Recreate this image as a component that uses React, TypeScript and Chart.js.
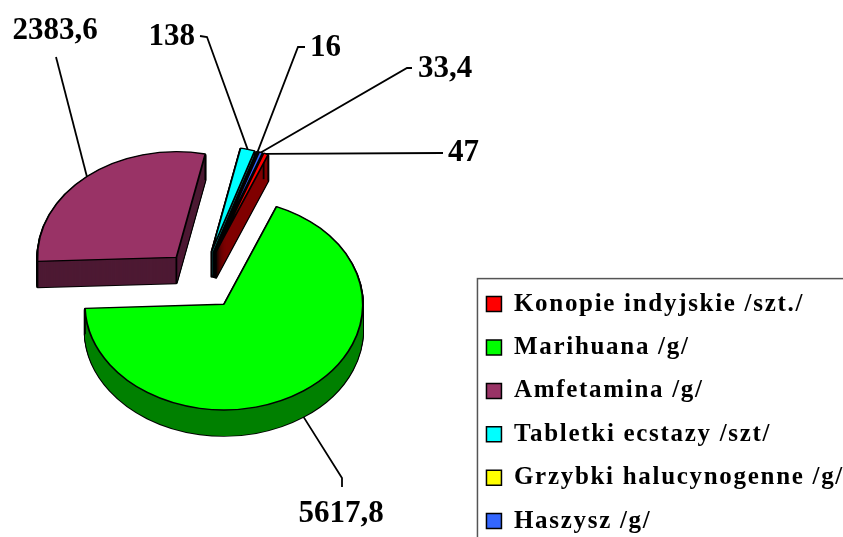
import React, { useEffect, useRef } from "react";
import { Chart, registerables } from "chart.js";

Chart.register(...registerables);

const categories = [
  "Konopie indyjskie /szt./",
  "Marihuana /g/",
  "Amfetamina /g/",
  "Tabletki ecstazy /szt/",
  "Grzybki halucynogenne /g/",
  "Haszysz /g/",
];
const seriesValues = [47, 5617.8, 2383.6, 138, 16, 33.4];
const valueLabels = ["47", "5617,8", "2383,6", "138", "16", "33,4"];
const topColors = ["#FF0000", "#00FF00", "#993366", "#00FFFF", "#FFFF00", "#3366FF"];
const sideColors = ["#800000", "#008000", "#4D1933", "#008080", "#808000", "#1A3380"];

const PIE_X = 201.5;
const PIE_Y = 280;
const SQUASH = 0.76;
const DEPTH = 26;
const EXPLODE = 39;
const DRAW_ORDER = [2, 3, 4, 5, 0, 1];
const LEGEND_TRACKING = "1.7px";

// Leader-line route beyond the rim and label anchors for each slice.
const leaderRoutes: number[][][] = [
  [[443, 153]],
  [[342, 478], [342, 487]],
  [[56, 57]],
  [[207, 37], [200, 36]],
  [[298, 47], [305, 47]],
  [[407, 68], [412, 68]],
];
const labelAnchors: { x: number; y: number; align: CanvasTextAlign }[] = [
  { x: 448, y: 153, align: "left" },
  { x: 341, y: 514, align: "center" },
  { x: 55, y: 31, align: "center" },
  { x: 195, y: 37, align: "right" },
  { x: 310, y: 48, align: "left" },
  { x: 418, y: 69, align: "left" },
];

const SERIF = '"Liberation Serif", serif';

function placeSlice(ctx: CanvasRenderingContext2D, el: any, dy: number) {
  const mid = (el.startAngle + el.endAngle) / 2;
  ctx.translate(PIE_X, PIE_Y + dy);
  ctx.scale(1, SQUASH);
  ctx.translate(EXPLODE * Math.cos(mid), EXPLODE * Math.sin(mid));
  ctx.translate(-el.x, -el.y);
}

function drawVariant(ctx: CanvasRenderingContext2D, el: any, dy: number, fill: string, stroke: string, width: number) {
  const clone = Object.create(el);
  clone.options = Object.assign({}, el.options, {
    backgroundColor: fill,
    borderColor: stroke,
    borderWidth: width,
  });
  ctx.save();
  placeSlice(ctx, el, dy);
  clone.draw(ctx);
  ctx.restore();
}

function rimPoint(el: any, angle: number, dy: number) {
  const mid = (el.startAngle + el.endAngle) / 2;
  return {
    x: PIE_X + EXPLODE * Math.cos(mid) + el.outerRadius * Math.cos(angle),
    y: PIE_Y + dy + SQUASH * (EXPLODE * Math.sin(mid) + el.outerRadius * Math.sin(angle)),
  };
}

const pie3d = {
  id: "pie3d",
  beforeUpdate(chart: any) {
    chart.ctx.letterSpacing = LEGEND_TRACKING;
  },
  beforeDraw(chart: any) {
    chart.ctx.letterSpacing = LEGEND_TRACKING;
  },
  beforeDatasetsDraw(chart: any) {
    const ctx: CanvasRenderingContext2D = chart.ctx;
    const arcs = chart.getDatasetMeta(0).data;
    for (const i of DRAW_ORDER) {
      const el = arcs[i];
      for (let dy = DEPTH; dy > 0; dy -= 1) drawVariant(ctx, el, dy, sideColors[i], "#000000", 2.4);
      for (let dy = DEPTH; dy > 0; dy -= 1) drawVariant(ctx, el, dy, sideColors[i], sideColors[i], 0);
      const mid = (el.startAngle + el.endAngle) / 2;
      const corners = [
        rimPoint(el, el.startAngle, 0),
        rimPoint(el, el.endAngle, 0),
        { x: PIE_X + EXPLODE * Math.cos(mid), y: PIE_Y + SQUASH * EXPLODE * Math.sin(mid) },
      ];
      ctx.save();
      ctx.strokeStyle = "#000000";
      ctx.lineWidth = 1.8;
      for (const c of corners) {
        ctx.beginPath();
        ctx.moveTo(c.x, c.y);
        ctx.lineTo(c.x, c.y + DEPTH);
        ctx.stroke();
      }
      ctx.restore();
      drawVariant(ctx, el, 0, topColors[i], "#000000", 1.8);
    }
    return false;
  },
  afterDraw(chart: any) {
    const ctx: CanvasRenderingContext2D = chart.ctx;
    const arcs = chart.getDatasetMeta(0).data;
    ctx.save();
    ctx.letterSpacing = "0px";
    // legend frame
    const first = chart.legend.legendHitBoxes[0];
    ctx.strokeStyle = "#555555";
    ctx.lineWidth = 1.5;
    ctx.strokeRect(first.left - 9, first.top - 13, 400, 300);
    // leaders
    ctx.strokeStyle = "#000000";
    ctx.lineWidth = 1.8;
    arcs.forEach((el: any, i: number) => {
      const mid = (el.startAngle + el.endAngle) / 2;
      const s = rimPoint(el, mid, Math.sin(mid) > 0 ? DEPTH : 0);
      ctx.beginPath();
      ctx.moveTo(s.x, s.y);
      for (const [x, y] of leaderRoutes[i]) ctx.lineTo(x, y);
      ctx.stroke();
    });
    // value labels
    ctx.fillStyle = "#000000";
    ctx.font = `bold 31px ${SERIF}`;
    ctx.textBaseline = "middle";
    valueLabels.forEach((t, i) => {
      const a = labelAnchors[i];
      ctx.textAlign = a.align;
      ctx.fillText(t, a.x, a.y);
    });
    ctx.restore();
  },
};

export default function App() {
  const ref = useRef<HTMLCanvasElement>(null);
  useEffect(() => {
    const chart = new Chart(ref.current as HTMLCanvasElement, {
      type: "pie",
      data: {
        labels: categories,
        datasets: [
          {
            data: seriesValues,
            backgroundColor: topColors,
            borderColor: "#000000",
            borderWidth: 1.5,
          },
        ],
      },
      options: {
        responsive: false,
        animation: false,
        rotation: 20.2,
        radius: 139,
        layout: { padding: { left: 0, right: -11, top: 8, bottom: -15 } },
        plugins: {
          tooltip: { enabled: false },
          legend: {
            display: true,
            position: "right",
            align: "end",
            labels: {
              boxWidth: 15,
              boxHeight: 15,
              padding: 18.4,
              color: "#000000",
              font: { family: SERIF, size: 25, weight: "bold" },
            },
          },
        },
      },
      plugins: [pie3d],
    } as any);
    return () => chart.destroy();
  }, []);
  return (
    <div style={{ position: "fixed", left: 0, top: 0, width: 843, height: 537, background: "#fff", overflow: "hidden" }}>
      <canvas ref={ref} width={843} height={537} style={{ display: "block" }} />
    </div>
  );
}
